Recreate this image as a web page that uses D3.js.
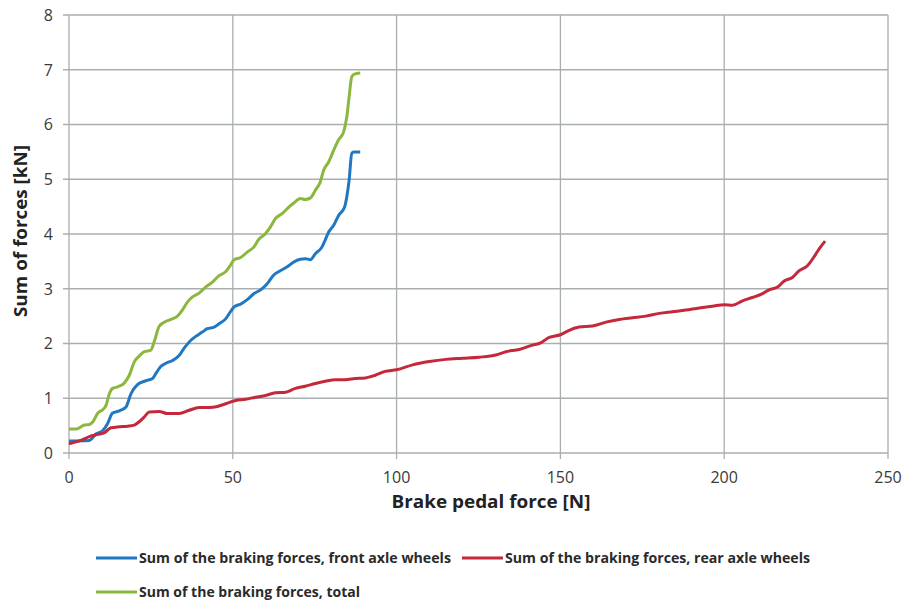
<!DOCTYPE html>
<html>
<head>
<meta charset="utf-8">
<script src="https://cdn.jsdelivr.net/npm/d3@7"></script>
<style>
  body { margin: 0; background: #fff; }
  text { font-family: "Open Sans", "DejaVu Sans", sans-serif; }
</style>
</head>
<body>
<div id="chart"></div>
<script>
// data: brake pedal force [N] vs force [kN]
const frontX = [0, 6.2, 8.3, 10.3, 11.8, 13.3, 15.4, 17.4, 18.9, 20.9, 23.5, 25.5, 26.5, 28, 29.6, 31.6, 33.6, 35.1, 37.2, 38.7, 40.7, 42.2, 44.3, 45.8, 47.8, 49.3, 50.4, 52.4, 54.4, 56.4, 58.5, 60.5, 62.5, 64.5, 66.6, 68.6, 70.6, 72.1, 73.7, 75.2, 77.2, 78.2, 79.3, 80.8, 82.3, 84.1, 84.8, 85.5, 86.3, 86.9, 88.9];
const frontY = [0.22, 0.23, 0.35, 0.41, 0.54, 0.73, 0.77, 0.84, 1.08, 1.25, 1.32, 1.36, 1.45, 1.58, 1.64, 1.69, 1.78, 1.91, 2.06, 2.13, 2.21, 2.27, 2.30, 2.36, 2.45, 2.58, 2.67, 2.72, 2.80, 2.91, 2.98, 3.09, 3.25, 3.33, 3.40, 3.49, 3.54, 3.55, 3.53, 3.64, 3.76, 3.89, 4.04, 4.16, 4.34, 4.49, 4.68, 4.98, 5.47, 5.50, 5.50];

const totalX = [0, 2.2, 4.7, 6.2, 7.3, 8.8, 10.3, 11.3, 12.3, 13.3, 14.9, 16.9, 18.4, 19.9, 21.4, 23, 25, 26, 27.5, 29.1, 31.1, 33.1, 34.6, 36.2, 37.7, 39.7, 41.7, 43.8, 45.8, 47.8, 49.3, 50.4, 52.4, 54.4, 56.4, 57.9, 60, 61.5, 63, 65, 67.1, 69.1, 70.6, 72.1, 73.7, 75.2, 76.7, 77.7, 79.3, 80.8, 82.3, 83.8, 84.8, 85.5, 86.3, 87.1, 88.9];
const totalY = [0.44, 0.44, 0.51, 0.52, 0.57, 0.73, 0.79, 0.87, 1.08, 1.18, 1.21, 1.28, 1.42, 1.66, 1.77, 1.85, 1.88, 2.03, 2.31, 2.39, 2.44, 2.50, 2.61, 2.76, 2.85, 2.92, 3.03, 3.12, 3.24, 3.31, 3.43, 3.53, 3.57, 3.67, 3.76, 3.90, 4.01, 4.13, 4.28, 4.37, 4.49, 4.59, 4.65, 4.63, 4.66, 4.80, 4.95, 5.16, 5.32, 5.53, 5.72, 5.86, 6.14, 6.50, 6.87, 6.92, 6.94];

const rearX = [0, 3.2, 6.2, 8.8, 10.8, 12.8, 15.4, 17.9, 19.9, 21.4, 23, 24.5, 27.5, 30.1, 33.6, 36.7, 39.7, 42.8, 45.3, 47.8, 50.9, 53.9, 56.9, 60, 63, 66.1, 69.1, 72.1, 75.2, 78.2, 81.3, 84.3, 87.4, 90.4, 93.5, 96.5, 100, 104.9, 110, 115, 120.1, 125.2, 130.3, 133.4, 137.4, 141.5, 143.5, 146.6, 150, 152.7, 155.7, 159.8, 163.9, 168, 172, 176.1, 180.2, 184.2, 188.3, 192.4, 196.4, 200, 202.5, 205.6, 208.6, 211.7, 213.7, 216.3, 218.3, 220.9, 222.9, 225.4, 227.5, 229, 230.8];
const rearY = [0.17, 0.22, 0.30, 0.34, 0.37, 0.46, 0.48, 0.49, 0.51, 0.57, 0.66, 0.75, 0.76, 0.72, 0.72, 0.78, 0.83, 0.83, 0.85, 0.90, 0.96, 0.98, 1.02, 1.05, 1.10, 1.11, 1.18, 1.22, 1.27, 1.31, 1.34, 1.34, 1.36, 1.37, 1.42, 1.49, 1.52, 1.61, 1.67, 1.71, 1.73, 1.75, 1.79, 1.85, 1.89, 1.97, 2.00, 2.11, 2.16, 2.24, 2.30, 2.32, 2.39, 2.44, 2.47, 2.50, 2.55, 2.58, 2.61, 2.65, 2.68, 2.71, 2.70, 2.78, 2.84, 2.91, 2.98, 3.03, 3.14, 3.21, 3.33, 3.42, 3.59, 3.73, 3.87];

const seriesNames = [
  "Sum of the braking forces, front axle wheels",
  "Sum of the braking forces, rear axle wheels",
  "Sum of the braking forces, total"
];
const seriesColors = ["#2077c2", "#c4283b", "#8cb73e"];
const xTicks = [0, 50, 100, 150, 200, 250];
const yTicks = [0, 1, 2, 3, 4, 5, 6, 7, 8];

const width = 911, height = 603;
const plot = { left: 69, top: 15, right: 888, bottom: 453 };

const svg = d3.select("#chart").append("svg")
  .attr("width", width)
  .attr("height", height);

const scaleX = d3.scaleLinear().domain([0, 250]).range([plot.left, plot.right]);
const scaleY = d3.scaleLinear().domain([0, 8]).range([plot.bottom, plot.top]);

const gridColor = "#a9aeb1";

// grid (ticks poke out past the axes like Excel's)
svg.append("g")
  .selectAll("line")
  .data(yTicks)
  .join("line")
  .attr("x1", plot.left - 6).attr("x2", plot.right)
  .attr("y1", d => scaleY(d)).attr("y2", d => scaleY(d))
  .attr("stroke", gridColor).attr("stroke-width", 1.3);
svg.append("g")
  .selectAll("line")
  .data(xTicks)
  .join("line")
  .attr("x1", d => scaleX(d)).attr("x2", d => scaleX(d))
  .attr("y1", plot.top).attr("y2", plot.bottom + 6)
  .attr("stroke", gridColor).attr("stroke-width", 1.3);

// tick labels
svg.append("g")
  .selectAll("text")
  .data(yTicks)
  .join("text")
  .attr("x", plot.left - 16)
  .attr("y", d => scaleY(d))
  .attr("dy", "0.36em")
  .attr("text-anchor", "end")
  .attr("font-size", 16)
  .attr("fill", "#3a3a3a")
  .text(d => d);
svg.append("g")
  .selectAll("text")
  .data(xTicks)
  .join("text")
  .attr("x", d => scaleX(d))
  .attr("y", plot.bottom + 30)
  .attr("text-anchor", "middle")
  .attr("font-size", 16)
  .attr("fill", "#3a3a3a")
  .text(d => d);

// axis titles
svg.append("text")
  .attr("x", 491).attr("y", 508)
  .attr("text-anchor", "middle")
  .attr("font-size", 17).attr("font-weight", "bold")
  .attr("fill", "#222")
  .attr("textLength", 199)
  .attr("lengthAdjust", "spacingAndGlyphs")
  .text("Brake pedal force [N]");
svg.append("text")
  .attr("transform", "translate(27, 231) rotate(-90)")
  .attr("text-anchor", "middle")
  .attr("font-size", 17).attr("font-weight", "bold")
  .attr("fill", "#222")
  .attr("textLength", 172)
  .attr("lengthAdjust", "spacingAndGlyphs")
  .text("Sum of forces [kN]");

// lines
const line = d3.line()
  .x(d => scaleX(d[0]))
  .y(d => scaleY(d[1]))
  .curve(d3.curveMonotoneX);

const series = [
  d3.zip(frontX, frontY),
  d3.zip(rearX, rearY),
  d3.zip(totalX, totalY)
];

svg.append("g")
  .selectAll("path")
  .data(series)
  .join("path")
  .attr("fill", "none")
  .attr("stroke", (d, i) => seriesColors[i])
  .attr("stroke-width", 3)
  .attr("stroke-linejoin", "round")
  .attr("d", line);

// legend
const legendPos = [[96, 558], [462, 558], [96, 592]];
const legendTextWidth = [312, 305, 221];
const legend = svg.append("g")
  .selectAll("g")
  .data(seriesNames)
  .join("g")
  .attr("transform", (d, i) => `translate(${legendPos[i][0]}, ${legendPos[i][1]})`);
legend.append("line")
  .attr("x1", 0).attr("x2", 41)
  .attr("stroke", (d, i) => seriesColors[i])
  .attr("stroke-width", 3);
legend.append("text")
  .attr("x", 43)
  .attr("dy", "0.35em")
  .attr("font-size", 15)
  .attr("font-weight", "bold")
  .attr("fill", "#2a2a2a")
  .attr("textLength", (d, i) => legendTextWidth[i])
  .attr("lengthAdjust", "spacingAndGlyphs")
  .text(d => d);
</script>
</body>
</html>
